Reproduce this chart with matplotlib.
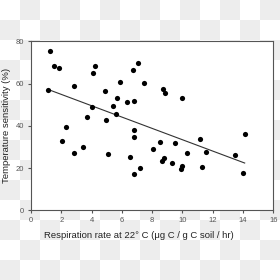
import numpy as np
import matplotlib
matplotlib.use("Agg")
import matplotlib.pyplot as plt

plt.rcParams['font.family'] = ['Liberation Sans', 'DejaVu Sans']

# Data
resp_rate = [1.12, 1.27, 1.54, 1.85, 2.03, 2.33, 2.84, 2.86, 3.45, 3.72,
             4.05, 4.10, 4.21, 4.91, 4.95, 5.11, 5.42, 5.61, 5.68, 5.90,
             6.32, 6.56, 6.76, 6.78, 6.78, 6.80, 6.82, 7.07, 7.22, 7.48,
             8.06, 8.52, 8.65, 8.72, 8.76, 8.87, 9.31, 9.53, 9.93, 9.95,
             9.99, 10.32, 11.16, 11.29, 11.54, 13.49, 14.00, 14.11]
temp_sens = [56.8, 75.3, 68.5, 67.2, 32.7, 39.4, 58.8, 27.3, 29.8, 44.3,
             48.8, 65.0, 68.4, 56.3, 42.7, 26.6, 49.2, 45.6, 53.3, 60.9,
             51.4, 25.2, 66.4, 51.9, 17.2, 38.2, 34.9, 69.9, 19.9, 60.3,
             29.0, 32.5, 23.4, 57.6, 24.6, 55.4, 22.4, 32.0, 19.6, 53.3,
             20.8, 27.0, 33.9, 20.5, 27.6, 26.2, 17.8, 36.1]
x_ticks = [0, 2, 4, 6, 8, 10, 12, 14, 16]
y_ticks = [0, 20, 40, 60, 80]

W = H = 280
fig = plt.figure(figsize=(2.8, 2.8), dpi=100)
fig.patch.set_facecolor('white')

# checkerboard (transparency) background
yy, xx = np.indices((H, W))
cb = ((yy // 20 + xx // 20) % 2 == 1)
img = np.ones((H, W, 3))
img[cb] = 0.93
fig.figimage(img, xo=0, yo=0, origin='upper', zorder=0)

ax = fig.add_axes([31 / W, (280 - 210.3) / H, (273.3 - 31) / W, (210.3 - 41.3) / H])
ax.set_facecolor('white')
ax.set_zorder(1)

x = np.asarray(resp_rate)
y = np.asarray(temp_sens)
ax.scatter(x, y, s=14, color='black', zorder=3, linewidths=0)

slope, intercept = np.polyfit(x, y, 1)
xl = np.array([x.min(), x.max()])
ax.plot(xl, slope * xl + intercept, color='#333333', lw=0.8, zorder=2)

ax.set_xlim(0, 16)
ax.set_ylim(0, 80)
ax.set_xticks(x_ticks)
ax.set_yticks(y_ticks)
for s in ax.spines.values():
    s.set_color('#555555')
    s.set_linewidth(0.8)
ax.tick_params(direction='out', length=2.5, width=0.8, color='#555555',
               labelsize=5.5, labelcolor='#555555', pad=2.5)

fig.text(138.5 / W, 1 - 236 / H, 'Respiration rate at 22° C (μg C / g C soil / hr)',
         ha='center', va='center', fontsize=6.8, color='#222222')
fig.text(7 / W, 1 - 125.5 / H, 'Temperature sensitivity (%)', rotation=90,
         ha='center', va='center', fontsize=6.8, color='#222222')

fig.savefig('out.png', dpi=100)
